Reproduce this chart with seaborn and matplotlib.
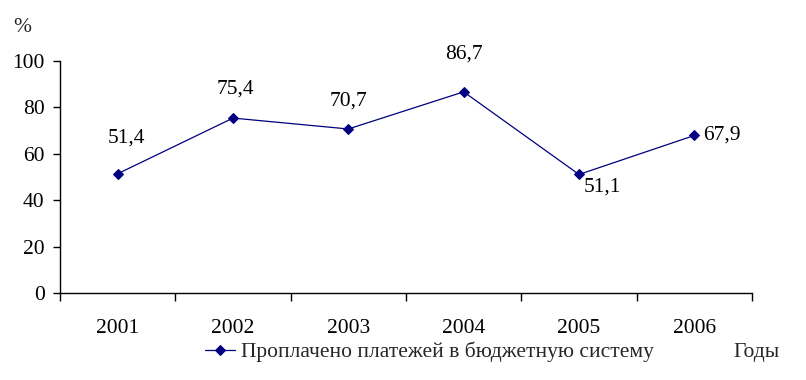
import matplotlib
matplotlib.use("Agg")
import matplotlib.pyplot as plt
import seaborn as sns
import pandas as pd
import numpy as np

years = ["2001", "2002", "2003", "2004", "2005", "2006"]
values = [51.4, 75.4, 70.7, 86.7, 51.1, 67.9]
labels = ["51,4", "75,4", "70,7", "86,7", "51,1", "67,9"]
series_name = "Проплачено платежей в бюджетную систему"

sns.set_theme(style="white")
plt.rcParams['font.family'] = ['Liberation Serif', 'DejaVu Serif']

FS = 15.5

df = pd.DataFrame({"pos": np.arange(len(years)), "val": values})

fig = plt.figure(figsize=(8.06, 3.8), dpi=100)
ax = fig.add_axes([60/806, 1-293/380, 692/806, 232/380])

navy = "#000080"
sns.lineplot(data=df, x="pos", y="val", ax=ax, color=navy, linewidth=0.9,
             marker="D", markersize=5.5, markeredgecolor=navy, markerfacecolor=navy,
             label=series_name)

ax.set_xlim(-0.5, len(years) - 0.5)
ax.set_ylim(0, 100)
ax.set_yticks([0, 20, 40, 60, 80, 100])
ax.set_xticks(np.arange(len(years)))
ax.set_xticklabels(years)
ax.set_xticks(np.arange(-0.5, len(years)), minor=True)
ax.tick_params(axis="x", which="major", length=0, pad=19, labelsize=FS, colors="black")
ax.tick_params(axis="x", which="minor", length=6, width=1, direction="out", color="black", bottom=True)
ax.tick_params(axis="y", length=5, width=1, direction="out", pad=6, labelsize=FS, colors="black", left=True)
ax.set_xlabel("")
ax.set_ylabel("")

for s in ["top", "right"]:
    ax.spines[s].set_visible(False)
for s in ["left", "bottom"]:
    ax.spines[s].set_color("black")
    ax.spines[s].set_linewidth(1)
ax.grid(False)

offsets = [(6, 26), (2, 21), (0, 20), (0, 27), (17, -9), (20, 0)]
for i, (lab, off) in enumerate(zip(labels, offsets)):
    ax.annotate(lab, (i, values[i]), xytext=off, textcoords="offset points",
                ha="center", va="center", fontsize=FS, color="black")

leg = ax.legend(loc="center left", bbox_to_anchor=(205/806, 1-352/380),
                bbox_transform=fig.transFigure, frameon=False, fontsize=FS,
                handlelength=1.4, handletextpad=0.25, borderpad=0, borderaxespad=0)

fig.text(22/806, 1-27/380, "%", fontsize=FS, ha="center", va="center")
fig.text(757/806, 1-352/380, "Годы", fontsize=FS, ha="center", va="center")

fig.savefig("out.png", dpi=100)
